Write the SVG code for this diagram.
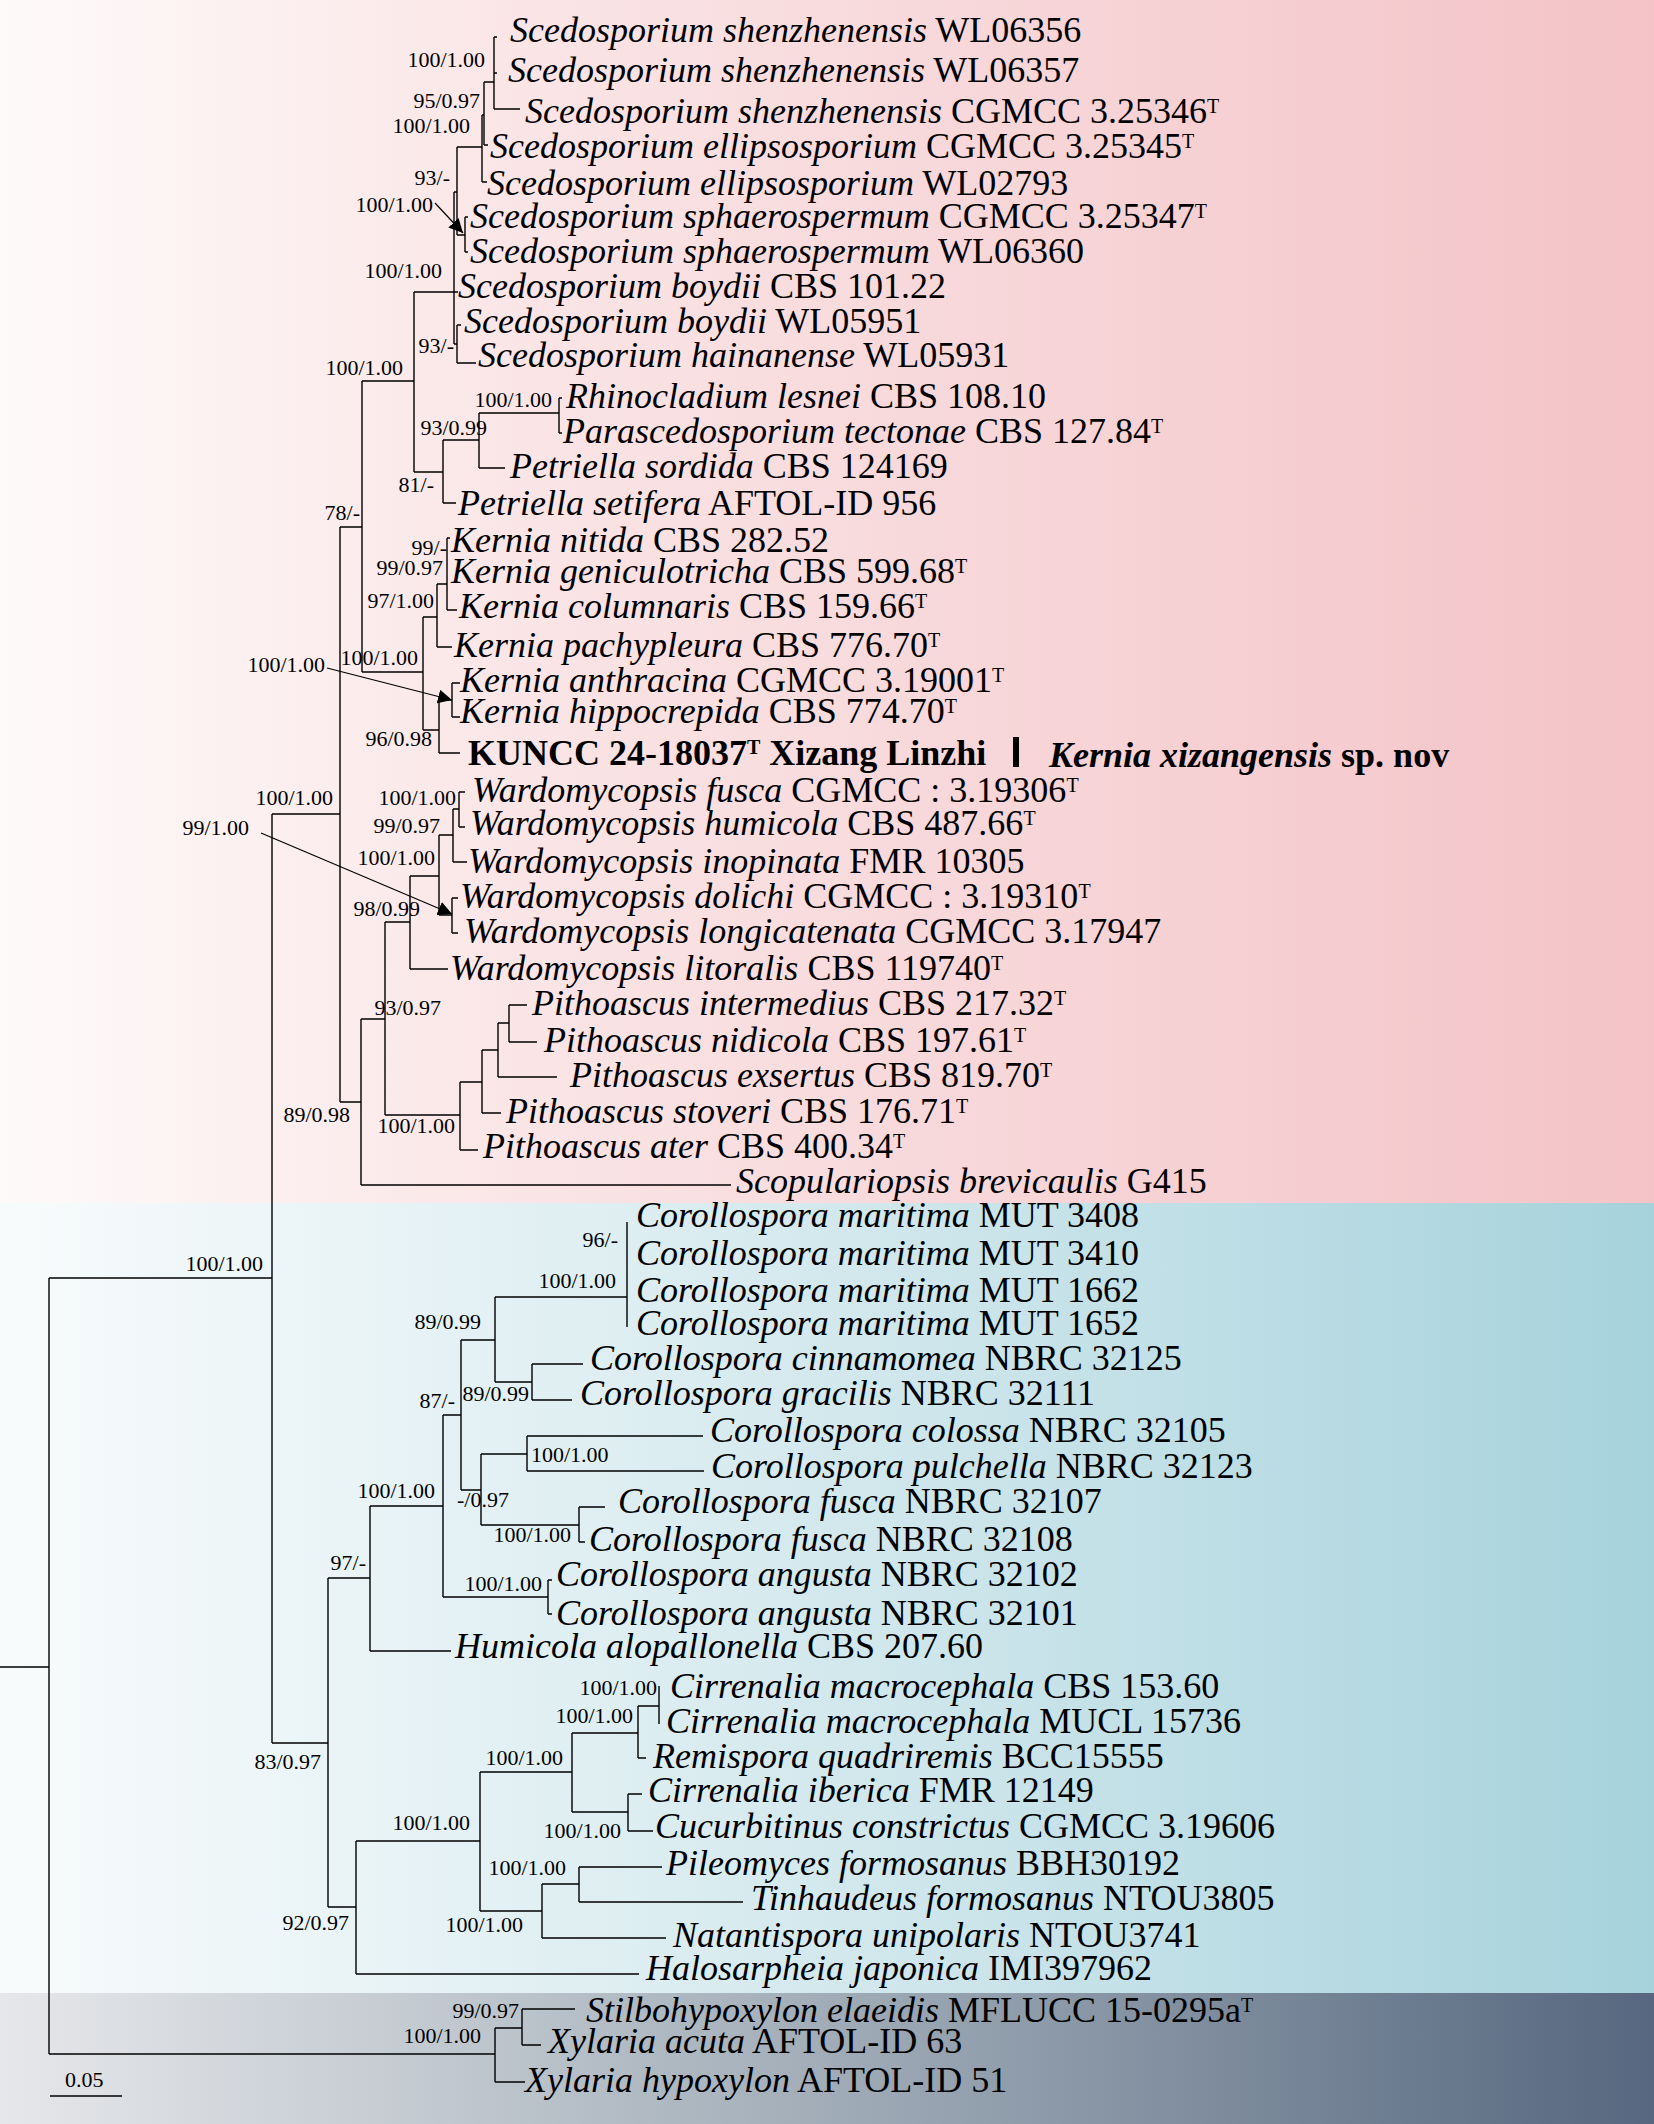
<svg xmlns="http://www.w3.org/2000/svg" width="1654" height="2124" viewBox="0 0 1654 2124">
<defs>
<linearGradient id="gPink" x1="0" y1="0" x2="1" y2="0"><stop offset="0" stop-color="#fefafa"/><stop offset="0.35" stop-color="#fae3e4"/><stop offset="1" stop-color="#f3c3c7"/></linearGradient>
<linearGradient id="gBlue" x1="0" y1="0" x2="1" y2="0"><stop offset="0" stop-color="#f8fbfc"/><stop offset="0.4" stop-color="#dcedf1"/><stop offset="1" stop-color="#a6d2dc"/></linearGradient>
<linearGradient id="gGray" x1="0" y1="0" x2="1" y2="0"><stop offset="0" stop-color="#e6e7ea"/><stop offset="0.45" stop-color="#a8b3bd"/><stop offset="1" stop-color="#56677f"/></linearGradient>
<marker id="arr" viewBox="0 0 10 10" refX="10" refY="5" markerWidth="14" markerHeight="14" markerUnits="userSpaceOnUse" orient="auto"><path d="M0,0 L10,5 L0,10 z" fill="#000"/></marker>
</defs>
<style>
.tx{font-family:"Liberation Serif","Times New Roman",serif;font-size:36px;fill:#000}
.i{font-style:italic}
.bs{font-family:"Liberation Serif","Times New Roman",serif;font-size:22px;fill:#000;text-anchor:end}
.bsl{font-family:"Liberation Serif","Times New Roman",serif;font-size:22px;fill:#000}
.sup{font-size:20px}
.br{fill:none;stroke:#000;stroke-width:1.4}
.ar{fill:none;stroke:#000;stroke-width:1.2}
.bold{font-weight:bold}
</style>
<g id="background">
<rect x="0" y="0" width="1654" height="1203" fill="url(#gPink)"/>
<rect x="0" y="1203" width="1654" height="790" fill="url(#gBlue)"/>
<rect x="0" y="1993" width="1654" height="131" fill="url(#gGray)"/>
</g>
<g id="connectors">
<path class="br" d="M0 1667H49M49 1278V2054M49 1278H272M272 814V1743M272 814H340M340 527V1102M340 527H362M362 381V672M362 381H414M414 292V472M414 292H454M454 192V344
M454 192H457M457 147V235M457 147H482M482 115V182M482 115H484M484 82V145M484 82H494M494 37V109M494 109H520M494 37H497M494 73H497M484 145H488M482 182H487M457 235H465M465 217V252M465 217H468M465 252H468M454 292H458M454 344H457M457 325V363M457 325H461M457 363H476
M414 472H443M443 440V503M443 440H479M479 413V468M479 413H559M559 398V433M559 398H562M559 433H562M479 468H505M443 503H456
M362 672H423M423 617V730M423 617H437M437 584V647M437 584H447M447 538V610M447 538H450M447 610H457M437 647H452M423 730H439M439 700V753M439 700H452M452 683V717M452 683H460M452 717H460M439 753H460
M340 1102H361M361 1019V1185M361 1185H731M361 1019H385M385 922V1115M385 922H410M410 876V969M410 969H448M410 876H439M439 835V915M439 835H453M453 809V862M453 862H467M453 809H459M459 792V827M459 792H465M459 827H465M439 915H452M452 898V933M452 898H458M452 933H458
M385 1115H460M460 1082V1150M460 1150H478M460 1082H482M482 1050V1113M482 1113H501M482 1050H498M498 1023V1077M498 1077H557M498 1023H509M509 1005V1042M509 1005H527M509 1042H537
M272 1743H328M328 1578V1907M328 1578H370M370 1506V1651M370 1651H451M370 1506H443M443 1415V1597M443 1597H548M548 1580V1614M548 1580H552M548 1614H552M443 1415H461M461 1340V1490M461 1340H495M495 1297V1382M495 1297H627M627 1222V1327M495 1382H532M532 1364V1400M532 1364H583M532 1400H572M461 1490H481M481 1454V1525M481 1454H527M527 1436V1471M527 1436H703M527 1471H704M481 1525H579M579 1507V1542M579 1507H605M579 1542H585
M328 1907H356M356 1841V1974M356 1974H639M356 1841H480M480 1772V1911M480 1772H572M572 1733V1812M572 1733H638M638 1706V1758M638 1758H646M638 1706H659M659 1686V1724M572 1812H628M628 1794V1831M628 1794H642M628 1831H653M480 1911H542M542 1884V1938M542 1938H666M542 1884H579M579 1867V1902M579 1867H662M579 1902H743
M49 2054H495M495 2028V2082M495 2082H525M495 2028H522M522 2009V2045M522 2009H575M522 2045H541"/>
<path class="ar" marker-end="url(#arr)" d="M435 203L463 233"/>
<path class="ar" marker-end="url(#arr)" d="M327 668L452 700"/>
<path class="ar" marker-end="url(#arr)" d="M261 833L452 914"/>
<path class="br" d="M50 2096H122"/>
</g>
<g id="support">
<text class="bs" x="485" y="67">100/1.00</text>
<text class="bs" x="480" y="108">95/0.97</text>
<text class="bs" x="470" y="133">100/1.00</text>
<text class="bs" x="450" y="185">93/-</text>
<text class="bs" x="433" y="212">100/1.00</text>
<text class="bs" x="442" y="278">100/1.00</text>
<text class="bs" x="454" y="353">93/-</text>
<text class="bs" x="403" y="375">100/1.00</text>
<text class="bs" x="552" y="407">100/1.00</text>
<text class="bs" x="487" y="435">93/0.99</text>
<text class="bs" x="434" y="492">81/-</text>
<text class="bs" x="360" y="520">78/-</text>
<text class="bs" x="447" y="555">99/-</text>
<text class="bs" x="443" y="575">99/0.97</text>
<text class="bs" x="434" y="608">97/1.00</text>
<text class="bs" x="418" y="665">100/1.00</text>
<text class="bs" x="325" y="672">100/1.00</text>
<text class="bs" x="432" y="746">96/0.98</text>
<text class="bs" x="333" y="805">100/1.00</text>
<text class="bs" x="249" y="835">99/1.00</text>
<text class="bs" x="456" y="805">100/1.00</text>
<text class="bs" x="440" y="833">99/0.97</text>
<text class="bs" x="435" y="865">100/1.00</text>
<text class="bs" x="420" y="916">98/0.99</text>
<text class="bs" x="441" y="1015">93/0.97</text>
<text class="bs" x="455" y="1133">100/1.00</text>
<text class="bs" x="350" y="1122">89/0.98</text>
<text class="bs" x="263" y="1271">100/1.00</text>
<text class="bs" x="618" y="1247">96/-</text>
<text class="bs" x="616" y="1288">100/1.00</text>
<text class="bs" x="481" y="1329">89/0.99</text>
<text class="bs" x="529" y="1401">89/0.99</text>
<text class="bs" x="455" y="1408">87/-</text>
<text class="bsl" x="531" y="1462">100/1.00</text>
<text class="bs" x="509" y="1507">-/0.97</text>
<text class="bs" x="571" y="1542">100/1.00</text>
<text class="bs" x="435" y="1498">100/1.00</text>
<text class="bs" x="542" y="1591">100/1.00</text>
<text class="bs" x="366" y="1570">97/-</text>
<text class="bs" x="321" y="1769">83/0.97</text>
<text class="bs" x="657" y="1695">100/1.00</text>
<text class="bs" x="633" y="1723">100/1.00</text>
<text class="bs" x="563" y="1765">100/1.00</text>
<text class="bs" x="621" y="1838">100/1.00</text>
<text class="bs" x="470" y="1830">100/1.00</text>
<text class="bs" x="566" y="1875">100/1.00</text>
<text class="bs" x="523" y="1932">100/1.00</text>
<text class="bs" x="349" y="1930">92/0.97</text>
<text class="bs" x="519" y="2018">99/0.97</text>
<text class="bs" x="481" y="2043">100/1.00</text>
<text class="bsl" x="65" y="2087">0.05</text>
</g>
<g id="taxa">
<g id="t01"><text class="tx" x="510" y="42"><tspan class="i">Scedosporium shenzhenensis</tspan> WL06356</text></g>
<g id="t02"><text class="tx" x="508" y="82"><tspan class="i">Scedosporium shenzhenensis</tspan> WL06357</text></g>
<g id="t03"><text class="tx" x="525" y="123"><tspan class="i">Scedosporium shenzhenensis</tspan> CGMCC 3.25346<tspan class="sup" dy="-10">T</tspan></text></g>
<g id="t04"><text class="tx" x="490" y="158"><tspan class="i">Scedosporium ellipsosporium</tspan> CGMCC 3.25345<tspan class="sup" dy="-10">T</tspan></text></g>
<g id="t05"><text class="tx" x="487" y="195"><tspan class="i">Scedosporium ellipsosporium</tspan> WL02793</text></g>
<g id="t06"><text class="tx" x="470" y="228"><tspan class="i">Scedosporium sphaerospermum</tspan> CGMCC 3.25347<tspan class="sup" dy="-10">T</tspan></text></g>
<g id="t07"><text class="tx" x="470" y="263"><tspan class="i">Scedosporium sphaerospermum</tspan> WL06360</text></g>
<g id="t08"><text class="tx" x="458" y="298"><tspan class="i">Scedosporium boydii</tspan> CBS 101.22</text></g>
<g id="t09"><text class="tx" x="464" y="333"><tspan class="i">Scedosporium boydii</tspan> WL05951</text></g>
<g id="t10"><text class="tx" x="478" y="367"><tspan class="i">Scedosporium hainanense</tspan> WL05931</text></g>
<g id="t11"><text class="tx" x="566" y="408"><tspan class="i">Rhinocladium lesnei</tspan> CBS 108.10</text></g>
<g id="t12"><text class="tx" x="563" y="443"><tspan class="i">Parascedosporium tectonae</tspan> CBS 127.84<tspan class="sup" dy="-10">T</tspan></text></g>
<g id="t13"><text class="tx" x="510" y="478"><tspan class="i">Petriella sordida</tspan> CBS 124169</text></g>
<g id="t14"><text class="tx" x="458" y="515"><tspan class="i">Petriella setifera</tspan> AFTOL-ID 956</text></g>
<g id="t15"><text class="tx" x="451" y="552"><tspan class="i">Kernia nitida</tspan> CBS 282.52</text></g>
<g id="t16"><text class="tx" x="451" y="583"><tspan class="i">Kernia geniculotricha</tspan> CBS 599.68<tspan class="sup" dy="-10">T</tspan></text></g>
<g id="t17"><text class="tx" x="459" y="618"><tspan class="i">Kernia columnaris</tspan> CBS 159.66<tspan class="sup" dy="-10">T</tspan></text></g>
<g id="t18"><text class="tx" x="454" y="657"><tspan class="i">Kernia pachypleura</tspan> CBS 776.70<tspan class="sup" dy="-10">T</tspan></text></g>
<g id="t19"><text class="tx" x="460" y="692"><tspan class="i">Kernia anthracina</tspan> CGMCC 3.19001<tspan class="sup" dy="-10">T</tspan></text></g>
<g id="t20"><text class="tx" x="460" y="723"><tspan class="i">Kernia hippocrepida</tspan> CBS 774.70<tspan class="sup" dy="-10">T</tspan></text></g>
<g id="t21"><text class="tx bold" x="468" y="765">KUNCC 24-18037<tspan class="sup" dy="-11">T</tspan><tspan dy="11"> Xizang Linzhi</tspan></text>
<rect x="1013" y="737" width="6" height="30" fill="#000"/>
<text class="tx bold" x="1049" y="767"><tspan class="i">Kernia xizangensis</tspan> sp. nov</text></g>
<g id="t22"><text class="tx" x="472" y="802"><tspan class="i">Wardomycopsis fusca</tspan> CGMCC : 3.19306<tspan class="sup" dy="-10">T</tspan></text></g>
<g id="t23"><text class="tx" x="470" y="835"><tspan class="i">Wardomycopsis humicola</tspan> CBS 487.66<tspan class="sup" dy="-10">T</tspan></text></g>
<g id="t24"><text class="tx" x="468" y="873"><tspan class="i">Wardomycopsis inopinata</tspan> FMR 10305</text></g>
<g id="t25"><text class="tx" x="460" y="908"><tspan class="i">Wardomycopsis dolichi</tspan> CGMCC : 3.19310<tspan class="sup" dy="-10">T</tspan></text></g>
<g id="t26"><text class="tx" x="464" y="943"><tspan class="i">Wardomycopsis longicatenata</tspan> CGMCC 3.17947</text></g>
<g id="t27"><text class="tx" x="450" y="980"><tspan class="i">Wardomycopsis litoralis</tspan> CBS 119740<tspan class="sup" dy="-10">T</tspan></text></g>
<g id="t28"><text class="tx" x="532" y="1015"><tspan class="i">Pithoascus intermedius</tspan> CBS 217.32<tspan class="sup" dy="-10">T</tspan></text></g>
<g id="t29"><text class="tx" x="544" y="1052"><tspan class="i">Pithoascus nidicola</tspan> CBS 197.61<tspan class="sup" dy="-10">T</tspan></text></g>
<g id="t30"><text class="tx" x="570" y="1087"><tspan class="i">Pithoascus exsertus</tspan> CBS 819.70<tspan class="sup" dy="-10">T</tspan></text></g>
<g id="t31"><text class="tx" x="506" y="1123"><tspan class="i">Pithoascus stoveri</tspan> CBS 176.71<tspan class="sup" dy="-10">T</tspan></text></g>
<g id="t32"><text class="tx" x="483" y="1158"><tspan class="i">Pithoascus ater</tspan> CBS 400.34<tspan class="sup" dy="-10">T</tspan></text></g>
<g id="t33"><text class="tx" x="736" y="1193"><tspan class="i">Scopulariopsis brevicaulis</tspan> G415</text></g>
<g id="t34"><text class="tx" x="636" y="1227"><tspan class="i">Corollospora maritima</tspan> MUT 3408</text></g>
<g id="t35"><text class="tx" x="636" y="1265"><tspan class="i">Corollospora maritima</tspan> MUT 3410</text></g>
<g id="t36"><text class="tx" x="636" y="1302"><tspan class="i">Corollospora maritima</tspan> MUT 1662</text></g>
<g id="t37"><text class="tx" x="636" y="1335"><tspan class="i">Corollospora maritima</tspan> MUT 1652</text></g>
<g id="t38"><text class="tx" x="590" y="1370"><tspan class="i">Corollospora cinnamomea</tspan> NBRC 32125</text></g>
<g id="t39"><text class="tx" x="580" y="1405"><tspan class="i">Corollospora gracilis</tspan> NBRC 32111</text></g>
<g id="t40"><text class="tx" x="710" y="1442"><tspan class="i">Corollospora colossa</tspan> NBRC 32105</text></g>
<g id="t41"><text class="tx" x="711" y="1478"><tspan class="i">Corollospora pulchella</tspan> NBRC 32123</text></g>
<g id="t42"><text class="tx" x="618" y="1513"><tspan class="i">Corollospora fusca</tspan> NBRC 32107</text></g>
<g id="t43"><text class="tx" x="589" y="1551"><tspan class="i">Corollospora fusca</tspan> NBRC 32108</text></g>
<g id="t44"><text class="tx" x="556" y="1586"><tspan class="i">Corollospora angusta</tspan> NBRC 32102</text></g>
<g id="t45"><text class="tx" x="556" y="1625"><tspan class="i">Corollospora angusta</tspan> NBRC 32101</text></g>
<g id="t46"><text class="tx" x="455" y="1658"><tspan class="i">Humicola alopallonella</tspan> CBS 207.60</text></g>
<g id="t47"><text class="tx" x="670" y="1698"><tspan class="i">Cirrenalia macrocephala</tspan> CBS 153.60</text></g>
<g id="t48"><text class="tx" x="666" y="1733"><tspan class="i">Cirrenalia macrocephala</tspan> MUCL 15736</text></g>
<g id="t49"><text class="tx" x="653" y="1768"><tspan class="i">Remispora quadriremis</tspan> BCC15555</text></g>
<g id="t50"><text class="tx" x="648" y="1802"><tspan class="i">Cirrenalia iberica</tspan> FMR 12149</text></g>
<g id="t51"><text class="tx" x="655" y="1838"><tspan class="i">Cucurbitinus constrictus</tspan> CGMCC 3.19606</text></g>
<g id="t52"><text class="tx" x="666" y="1875"><tspan class="i">Pileomyces formosanus</tspan> BBH30192</text></g>
<g id="t53"><text class="tx" x="751" y="1910"><tspan class="i">Tinhaudeus formosanus</tspan> NTOU3805</text></g>
<g id="t54"><text class="tx" x="673" y="1947"><tspan class="i">Natantispora unipolaris</tspan> NTOU3741</text></g>
<g id="t55"><text class="tx" x="646" y="1980"><tspan class="i">Halosarpheia japonica</tspan> IMI397962</text></g>
<g id="t56"><text class="tx" x="586" y="2022"><tspan class="i">Stilbohypoxylon elaeidis</tspan> MFLUCC 15-0295a<tspan class="sup" dy="-10">T</tspan></text></g>
<g id="t57"><text class="tx" x="548" y="2053"><tspan class="i">Xylaria acuta</tspan> AFTOL-ID 63</text></g>
<g id="t58"><text class="tx" x="525" y="2092"><tspan class="i">Xylaria hypoxylon</tspan> AFTOL-ID 51</text></g>
</g>
</svg>
